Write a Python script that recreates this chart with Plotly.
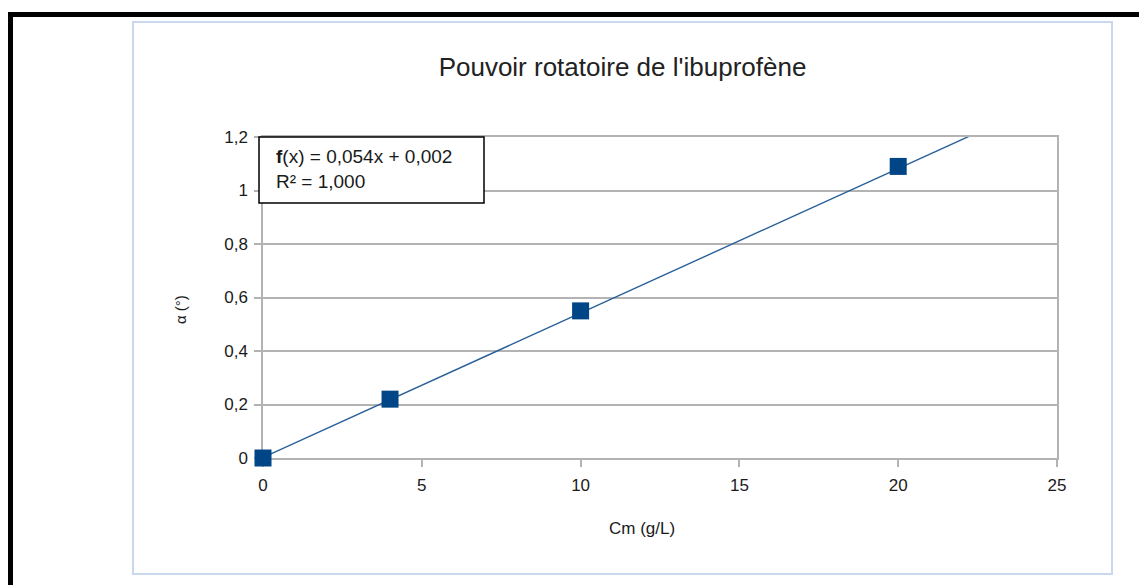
import plotly.graph_objects as go

# Data
cm = [0, 4, 10, 20]
alpha = [0, 0.22, 0.55, 1.09]
slope = 0.054
intercept = 0.002
trend_x = [0, 25]
trend_y = [slope * x + intercept for x in trend_x]
x_ticks = [0, 5, 10, 15, 20, 25]
y_ticks = [0, 0.2, 0.4, 0.6, 0.8, 1.0, 1.2]

W, H = 1139, 585
L, R, T, B = 263, 1057, 137, 458

def px(xp):
    return (xp - L) / (R - L)

def py(yp):
    return (B - yp) / (B - T)

BLUE = "#004586"
GRID = "#b3b3b3"
FONT = "Liberation Sans, Arial, sans-serif"

fig = go.Figure()
fig.add_trace(go.Scatter(x=trend_x, y=trend_y, mode="lines",
                         line=dict(color="#2a6099", width=1.4),
                         hoverinfo="skip", showlegend=False))
fig.add_trace(go.Scatter(x=cm, y=alpha, mode="markers",
                         marker=dict(symbol="square", size=17, color=BLUE),
                         cliponaxis=False, showlegend=False))

fig.update_layout(
    width=W, height=H,
    margin=dict(l=L, r=W - R, t=T, b=H - B, pad=0),
    paper_bgcolor="white", plot_bgcolor="white",
    separators=", ",
    font=dict(family=FONT, size=17, color="#1a1a1a"),
    title=dict(text="Pouvoir rotatoire de l'ibuprofène",
               x=622.5 / W, xanchor="center", y=1 - 67 / H, yanchor="middle",
               font=dict(size=26, color="#222222", family=FONT)),
    xaxis=dict(range=[0, 25], tickvals=x_ticks, showgrid=False, zeroline=False,
               showline=True, linecolor=GRID, linewidth=1.5, mirror=True,
               ticks="outside", ticklen=7, tickcolor=GRID, tickwidth=1.5,
               ticklabelstandoff=4, layer="below traces"),
    yaxis=dict(range=[0, 1.2], tickvals=y_ticks, tickformat=".1~f",
               showgrid=True, gridcolor=GRID, gridwidth=1.5, zeroline=False,
               showline=True, linecolor=GRID, linewidth=1.5, mirror=True,
               ticks="outside", ticklen=7, tickcolor=GRID, tickwidth=1.5,
               ticklabelstandoff=3, layer="below traces"),
)

shapes = [
    # outer light frame
    dict(type="rect", xref="paper", yref="paper",
         x0=px(133), x1=px(1112), y0=py(574), y1=py(22),
         line=dict(color="#c9d8ee", width=2), layer="below"),
    # black border top
    dict(type="rect", xref="paper", yref="paper",
         x0=px(8), x1=px(1139), y0=py(17), y1=py(12),
         line=dict(width=0), fillcolor="black"),
    # black border left
    dict(type="rect", xref="paper", yref="paper",
         x0=px(8), x1=px(13), y0=py(585), y1=py(12),
         line=dict(width=0), fillcolor="black"),
    # equation box
    dict(type="rect", xref="paper", yref="paper",
         x0=px(259), x1=px(484), y0=py(203), y1=py(137),
         line=dict(color="black", width=1.5), fillcolor="white", layer="above"),
]
fig.update_layout(shapes=shapes)

fig.add_annotation(xref="paper", yref="paper", x=px(274), y=py(169),
                   xanchor="left", yanchor="middle", align="left", showarrow=False,
                   text="<b>f</b>(x) = 0,054x + 0,002<br>R² = 1,000",
                   font=dict(size=19, color="#1a1a1a", family=FONT))

# axis titles
fig.add_annotation(xref="paper", yref="paper", x=px(642), y=py(528),
                   xanchor="center", yanchor="middle", showarrow=False,
                   text="Cm (g/L)", font=dict(size=17, family=FONT))
fig.add_annotation(xref="paper", yref="paper", x=px(180), y=py(310),
                   xanchor="center", yanchor="middle", showarrow=False, textangle=-90,
                   text="α (°)", font=dict(size=15, family=FONT))

fig.write_html("out.html")
